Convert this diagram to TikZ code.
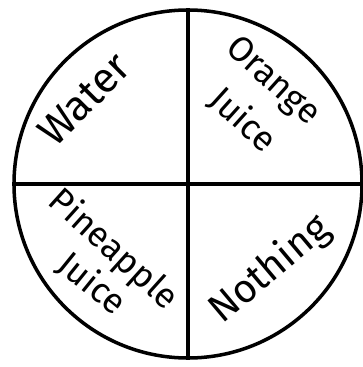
\documentclass[tikz,border=0pt]{standalone}
\usepackage{fontspec}
\setmainfont{Fira Sans}
\usepackage{tikz}
\usetikzlibrary{positioning}

\tikzset{
  choice/.style={font=\fontsize{30}{32}\selectfont, inner sep=0pt},
  divider/.style={line width=3pt}
}

\begin{document}
\begin{tikzpicture}[x=0.03cm, y=-0.03cm]
    \useasboundingbox (0,0) rectangle (362,367);
    \node[draw, divider, circle, minimum size=10.44cm] (plate) at (188,184) {};
    \draw[divider] (plate.north) -- (plate.south);
    \draw[divider] (plate.west) -- (plate.east);

    % the four quarters
    \node[choice, rotate=45, font=\fontsize{36}{38}\selectfont] (water) at (84,99) {Water};
    \node[choice, rotate=-42] (orange) at (272,82) {Orange};
    \node[choice, rotate=-42] (ojuice) at (243,120) {Juice};
    \node[choice, rotate=-42] (pineapple) at (113,250) {Pineapple};
    \node[choice, rotate=-39] (pjuice) at (92,284) {Juice};
    \node[choice, rotate=40, font=\fontsize{34}{36}\selectfont] (nothing) at (270,270) {Nothing};
  \end{tikzpicture}
\end{document}
